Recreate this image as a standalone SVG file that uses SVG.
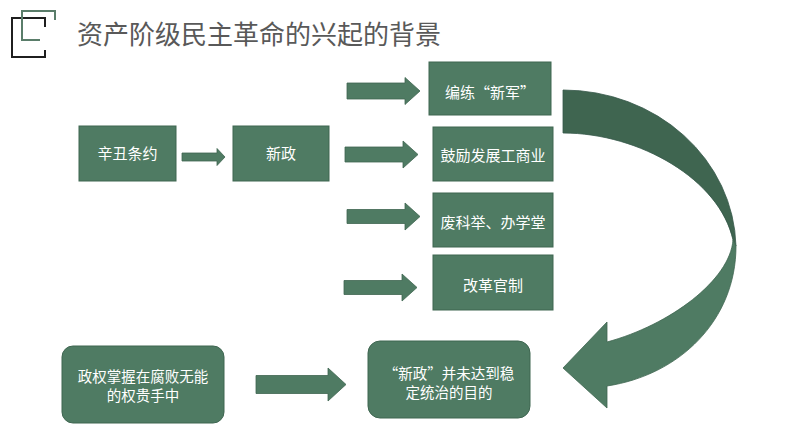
<svg xmlns="http://www.w3.org/2000/svg" width="794" height="447" viewBox="0 0 794 447">
<style>
.box{fill:#4f7b63;stroke:#3f6651;stroke-width:1}
.arr{fill:#4f7b63;stroke:#3f6651;stroke-width:0.8}
.lbl{font-family:"Noto Sans CJK SC","Noto Sans",sans-serif;font-size:15px;fill:#ffffff;text-anchor:middle}
.lbl2{font-family:"Noto Sans CJK SC","Noto Sans",sans-serif;font-size:14.5px;fill:#ffffff;text-anchor:middle}
.title{font-family:"Noto Sans CJK SC","Noto Sans",sans-serif;font-size:26px;fill:#595959}
</style>
<rect width="794" height="447" fill="#ffffff"/>
<g id="title">
<path d="M45,27 V18 H12 V57 H45 V50" fill="none" stroke="#1f1f1f" stroke-width="2"/>
<path d="M55,20 V11 H22 V40 H40" fill="none" stroke="#5a7d6a" stroke-width="2"/>
<text class="title" x="77" y="44">资产阶级民主革命的兴起的背景</text>
</g>
<g id="connectors">
<path class="arr" d="M182,153 L217,153 L217,148.5 L225,157 L217,165.5 L217,161 L182,161 Z"/>
<path class="arr" d="M347,83 L405,83 L405,77.5 L420,91 L405,104.5 L405,99 L347,99 Z"/>
<path class="arr" d="M345,147 L403,147 L403,141 L418,154.5 L403,168 L403,162 L345,162 Z"/>
<path class="arr" d="M347,209.5 L405,209.5 L405,203 L420,216.5 L405,230 L405,223.5 L347,223.5 Z"/>
<path class="arr" d="M344,280.5 L402,280.5 L402,274 L417,287.5 L402,301 L402,294.5 L344,294.5 Z"/>
<path class="arr" d="M256,375.5 L328,375.5 L328,368 L346,384.5 L328,401 L328,393.5 L256,393.5 Z"/>
<path d="M563,90 A173,160 0 0 1 736,246 L733,240 C720,180 640,133 563,133 Z" fill="#3f6550" stroke="#36584a" stroke-width="0.8"/>
<path d="M736,246 C736,320 680,375 607,386 L607,408 L563,368 L607,322 L607,342 C670,325 730,280 733,240 Z" fill="#4f7b63" stroke="#3f6651" stroke-width="0.8"/>
</g>
<g id="n_xinchou">
<rect class="box" x="79" y="126" width="97" height="55"/>
<text class="lbl" x="127.5" y="159">辛丑条约</text>
</g>
<g id="n_xinzheng">
<rect class="box" x="233" y="126" width="96" height="55"/>
<text class="lbl" x="281" y="159">新政</text>
</g>
<g id="n_xinjun">
<rect class="box" x="429" y="62" width="122" height="53"/>
<text class="lbl" x="490" y="97.5">编练“新军”</text>
</g>
<g id="n_guli">
<rect class="box" x="433" y="127" width="120" height="54"/>
<text class="lbl" x="493" y="160.5">鼓励发展工商业</text>
</g>
<g id="n_feikeju">
<rect class="box" x="433" y="193" width="120" height="54"/>
<text class="lbl" x="493" y="227.5">废科举、办学堂</text>
</g>
<g id="n_gaige">
<rect class="box" x="433" y="255" width="120" height="55"/>
<text class="lbl" x="493" y="290.5">改革官制</text>
</g>
<g id="n_zhengquan">
<rect class="box" x="62" y="346" width="162" height="77" rx="11"/>
<text class="lbl2" x="143" y="382">政权掌握在腐败无能</text>
<text class="lbl2" x="143" y="401">的权贵手中</text>
</g>
<g id="n_weida">
<rect class="box" x="368" y="341" width="162" height="77" rx="12"/>
<text class="lbl2" x="449" y="378.5">“新政”并未达到稳</text>
<text class="lbl2" x="449" y="397.5">定统治的目的</text>
</g>
</svg>
